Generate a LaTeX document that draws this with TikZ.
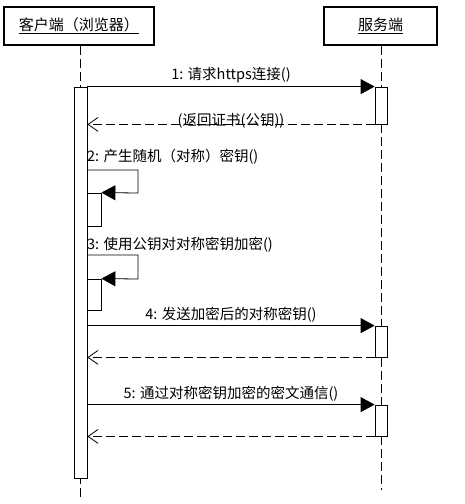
\documentclass[tikz,border=0pt]{standalone}
\usepackage{fontspec}
\setmainfont{Noto Sans CJK SC}
\usetikzlibrary{arrows.meta}
\tikzset{
  header/.style={draw=black, line width=1.5pt, fill=white, minimum height=38pt, inner sep=0pt, font=\fontsize{15pt}{17pt}\selectfont},
  actbar/.style={draw=black, line width=0.8pt, fill=white, inner sep=0pt, minimum width=13pt},
  lifeline/.style={draw=black, line width=0.8pt, dash pattern=on 9pt off 4pt},
  callmsg/.style={draw=black, line width=0.8pt, -{Triangle[length=14pt,width=15pt]}},
  retmsg/.style={draw=black, line width=0.8pt, dash pattern=on 9pt off 4pt, -{Straight Barb[length=10pt,width=14pt]}},
  lbl/.style={font=\fontsize{14.5pt}{16pt}\selectfont, inner sep=1pt},
}
\begin{document}
\begin{tikzpicture}[x=1pt,y=-1pt]
\useasboundingbox (0,0) rectangle (464,504);
% headers
\node[header, minimum width=150pt] (client) at (79,26) {\underline{客户端（浏览器）}};
\node[header, minimum width=113pt] (server) at (380.5,26) {\underline{服务端}};
% lifeline ends
\coordinate (cend) at (80,500);
\coordinate (send) at (381,490);
\draw[lifeline] (client.south -| 80,0) -- (cend);
\draw[lifeline] (server.south -| 381,0) -- (send);
% main client activation
\node[actbar, minimum height=391pt] (ca) at (80.5,282.5) {};
% server activations
\node[actbar, minimum width=12pt, minimum height=37pt] (s1) at (381,105.5) {};
\node[actbar, minimum width=12pt, minimum height=31pt] (s4) at (381,341.5) {};
\node[actbar, minimum width=12pt, minimum height=31pt] (s5) at (381,420.5) {};
% nested client activations
\node[actbar, minimum width=14pt, minimum height=33pt] (c2) at (94,209.5) {};
\node[actbar, minimum width=14pt, minimum height=31pt] (c3) at (94,294.5) {};
% message 1
\draw[callmsg] (ca.east |- s1.north) -- node[lbl, above=2pt] {1: 请求https连接()} (s1.north west);
\draw[retmsg] (s1.south west) -- node[lbl, yshift=4pt] {(返回证书(公钥))} (ca.east |- s1.south);
% message 2 (self)
\coordinate (l2a) at (87,170);
\coordinate (l2b) at (138,170);
\coordinate (l2c) at (138,193);
\node[lbl, anchor=west] (t2) at (86,157) {2: 产生随机（对称）密钥()};
\draw[callmsg] (l2a) -- (l2b) -- (l2c) -- (c2.north east);
% message 3 (self)
\coordinate (l3a) at (87,255);
\coordinate (l3b) at (138,255);
\coordinate (l3c) at (138,279);
\node[lbl, anchor=west] (t3) at (86,245) {3: 使用公钥对对称密钥加密()};
\draw[callmsg] (l3a) -- (l3b) -- (l3c) -- (c3.north east);
% message 4
\draw[callmsg] (ca.east |- s4.north) -- node[lbl, above=2pt] {4: 发送加密后的对称密钥()} (s4.north west);
\draw[retmsg] (s4.south west) -- (ca.east |- s4.south);
% message 5
\draw[callmsg] (ca.east |- s5.north) -- node[lbl, above=2pt] {5: 通过对称密钥加密的密文通信()} (s5.north west);
\draw[retmsg] (s5.south west) -- (ca.east |- s5.south);
\end{tikzpicture}
\end{document}
